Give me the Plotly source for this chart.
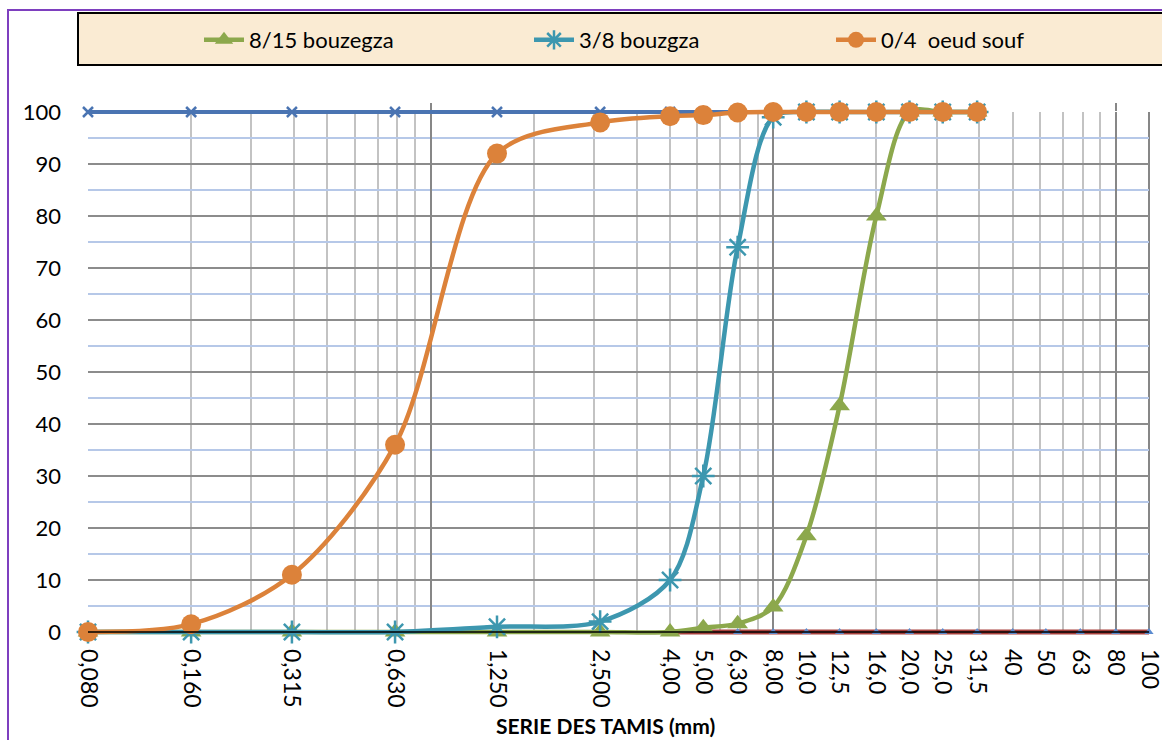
import math
import plotly.graph_objects as go

# ---- data ----
sieve = [0.08, 0.16, 0.315, 0.63, 1.25, 2.5, 4.0, 5.0, 6.3, 8.0, 10.0, 12.5, 16.0,
         20.0, 25.0, 31.5, 40.0, 50.0, 63.0, 80.0, 100.0]
tick_text = ["0,080", "0,160", "0,315", "0,630", "1,250", "2,500", "4,00", "5,00",
             "6,30", "8,00", "10,0", "12,5", "16,0", "20,0", "25,0", "31,5",
             "40", "50", "63", "80", "100"]

# passing percentages for sieves 0.08 ... 31.5 (16 points)
sand_04 = [0, 1.5, 11, 36, 92, 98, 99.2, 99.4, 99.9, 100, 100, 100, 100, 100, 100, 100]
gravel_38 = [0, 0, 0, 0, 1, 2, 10, 30, 74, 99, 100, 100, 100, 100, 100, 100]
gravel_815 = [0, 0, 0, 0, 0, 0, 0, 0.8, 1.6, 4.8, 18.5, 43.5, 80, 100, 100, 100]

# extra (unlabelled) series seen on the chart
top_line = [100] * 16            # sieves 0.08 ... 31.5
red_zero = [0] * 17              # sieves 4.00 ... 100
tri_zero = [0] * 13              # sieves 8.00 ... 100

FONT = "Lato"
ORANGE = "#DC823A"
TEAL = "#3D97AF"
GREEN = "#8CA84C"
DBLUE = "#4A74B2"

# ---- geometry (pixels) ----
W, H = 1162, 740
L, R, T, B = 88, 1149, 112, 632   # plot area
PAD = 12                          # extra room so boundary lines are not clipped
ml, mr, mt, mb = L - PAD, W - R - PAD, T - PAD, H - B - PAD
PW, PH = W - ml - mr, H - mt - mb


def px(x):
    return (x - ml) / PW


def py(y):
    return (H - mb - y) / PH


xlo, xhi = math.log10(sieve[0]), math.log10(sieve[-1])
dpp = (xhi - xlo) / (R - L)
upp = 100.0 / (B - T)
xr = [xlo - 1e-5, xhi + 1e-5]
xr3 = [xlo - PAD * dpp, xhi + PAD * dpp]
yr3 = [0 - PAD * upp, 100 + PAD * upp]

fig = go.Figure()

# dummy traces to activate the grid axes
fig.add_trace(go.Scatter(x=[sieve[0]], y=[None], xaxis="x", yaxis="y", mode="markers",
                         showlegend=False, hoverinfo="skip"))
fig.add_trace(go.Scatter(x=[sieve[0]], y=[None], xaxis="x2", yaxis="y", mode="markers",
                         showlegend=False, hoverinfo="skip"))

common = dict(xaxis="x3", yaxis="y3", cliponaxis=False)

fig.add_trace(go.Scatter(x=sieve[:16], y=top_line, mode="lines+markers",
                         line=dict(color=DBLUE, width=4),
                         marker=dict(symbol="x-thin-open", size=10, color=DBLUE,
                                     line=dict(color=DBLUE, width=2.5)),
                         showlegend=False, hoverinfo="skip", **common))
fig.add_trace(go.Scatter(x=sieve[6:], y=red_zero, mode="lines",
                         line=dict(color="#A7403C", width=5),
                         showlegend=False, hoverinfo="skip", **common))
fig.add_trace(go.Scatter(x=sieve[8:], y=tri_zero, mode="markers",
                         marker=dict(symbol="triangle-up", size=8, color="#5B8BD0"),
                         showlegend=False, hoverinfo="skip", **common))

fig.add_trace(go.Scatter(x=sieve[:16], y=gravel_815, name="8/15 bouzegza",
                         mode="lines+markers",
                         line=dict(color=GREEN, width=4.5, shape="spline", smoothing=0.9),
                         marker=dict(symbol="triangle-up", size=18, color=GREEN),
                         legend="legend", **common))
fig.add_trace(go.Scatter(x=sieve[:16], y=gravel_38, name="3/8 bouzgza",
                         mode="lines+markers",
                         line=dict(color=TEAL, width=4.5, shape="spline", smoothing=0.9),
                         marker=dict(symbol="asterisk-open", size=19, color=TEAL,
                                     line=dict(color=TEAL, width=2.5)),
                         legend="legend2", **common))
fig.add_trace(go.Scatter(x=sieve[:16], y=sand_04, name="0/4  oeud souf",
                         mode="lines+markers",
                         line=dict(color=ORANGE, width=4.5, shape="spline", smoothing=0.9),
                         marker=dict(symbol="circle", size=20, color=ORANGE),
                         legend="legend3", **common))

# vertical grid positions (Excel log grid starting at 0.08)
minor_grid, decade_grid = [], []
for d in range(4):
    for k in range(1, 10):
        v = round(0.08 * k * 10 ** d, 6)
        if 0.08 < v < 100:
            (decade_grid if k == 1 else minor_grid).append(v)

dom_x = [px(L), px(R)]
dom_y = [py(B), py(T)]

leg_common = dict(orientation="h", yanchor="middle", xanchor="left",
                  bgcolor="rgba(0,0,0,0)", font=dict(family=FONT, size=22, color="black"),
                  itemwidth=40, y=py(40))

fig.update_layout(
    width=W, height=H,
    margin=dict(l=ml, r=mr, t=mt, b=mb, autoexpand=False),
    paper_bgcolor="white", plot_bgcolor="rgba(0,0,0,0)",
    font=dict(family=FONT, size=22, color="black"),
    xaxis=dict(type="log", range=xr, domain=dom_x, anchor="y", tickmode="array",
               tickvals=sieve, ticktext=tick_text, tickangle=90, showgrid=False,
               zeroline=False, ticks="", showline=False, ticklabelstandoff=16,
               ticklabeloverflow="allow",
               tickfont=dict(family=FONT, size=23, color="black"),
               minor=dict(tickmode="array", tickvals=minor_grid, showgrid=True,
                          gridcolor="#C3C3C3", gridwidth=1.5, ticks="")),
    xaxis2=dict(type="log", range=xr, domain=dom_x, overlaying="x", anchor="y", side="top",
                tickmode="array", tickvals=decade_grid, showticklabels=False, showgrid=True,
                gridcolor="#878787", gridwidth=2, ticks="outside", ticklen=8,
                tickcolor="#878787", tickwidth=2, zeroline=False, showline=False),
    yaxis=dict(range=[0, 100], domain=dom_y, anchor="x", tickmode="linear", tick0=0, dtick=10,
               showgrid=True, gridcolor="#8C8C8C", gridwidth=1.5, zeroline=False,
               ticks="", ticklabelstandoff=26,
               tickfont=dict(family=FONT, size=22, color="black"),
               minor=dict(tickmode="linear", tick0=5, dtick=10, showgrid=True,
                          gridcolor="#B6C8E8", gridwidth=1.5, ticks="")),
    xaxis3=dict(type="log", range=xr3, domain=[0, 1], anchor="y3", visible=False),
    yaxis3=dict(range=yr3, domain=[0, 1], anchor="x3", visible=False),
    showlegend=True,
    legend=dict(x=px(199), **leg_common),
    legend2=dict(x=px(529), **leg_common),
    legend3=dict(x=px(831), **leg_common),
    shapes=[
        # outer purple border
        dict(type="rect", xref="paper", yref="paper", x0=px(8), x1=px(W + 20),
             y0=py(H + 20), y1=py(10),
             line=dict(color="#7E3FBF", width=2), fillcolor="rgba(0,0,0,0)", layer="below"),
        # legend box
        dict(type="rect", xref="paper", yref="paper", x0=px(78), x1=px(W + 20),
             y0=py(65), y1=py(13),
             line=dict(color="black", width=2), fillcolor="#FAEBD3", layer="below"),
        # right plot border
        dict(type="line", xref="paper", yref="paper", x0=px(R), x1=px(R),
             y0=py(B), y1=py(T), line=dict(color="#878787", width=2), layer="between"),
        # thin black axis line at 0 drawn on top
        dict(type="line", xref="paper", yref="paper", x0=px(L), x1=px(R),
             y0=py(B), y1=py(B), line=dict(color="black", width=1.3), layer="above"),
    ],
    annotations=[
        dict(text="<b>SERIE DES TAMIS (mm)</b>", xref="paper", yref="paper",
             x=px(605), y=py(725), xanchor="center", yanchor="middle", showarrow=False,
             font=dict(family=FONT, size=21, color="black")),
    ],
)

fig.write_html("out.html", config={"displayModeBar": False},
               post_script="document.body.style.margin='0px';")
